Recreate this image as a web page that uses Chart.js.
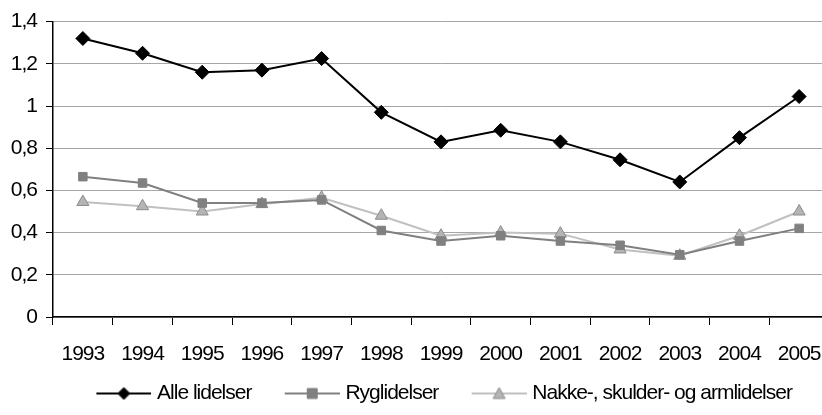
<!DOCTYPE html>
<html>
<head>
<meta charset="utf-8">
<script src="https://cdn.jsdelivr.net/npm/chart.js@4.4.0/dist/chart.umd.min.js"></script>
<style>
  html, body { margin: 0; padding: 0; background: #fff; overflow: hidden; }
  #wrap { width: 866px; height: 415px; }
</style>
</head>
<body>
<div id="wrap"><canvas id="chart" width="866" height="415"></canvas></div>
<script>
const years = ["1993", "1994", "1995", "1996", "1997", "1998", "1999", "2000", "2001", "2002", "2003", "2004", "2005"];
const alleLidelser = [1.32, 1.25, 1.16, 1.17, 1.225, 0.97, 0.83, 0.885, 0.83, 0.745, 0.64, 0.85, 1.045];
const ryglidelser = [0.665, 0.635, 0.54, 0.54, 0.555, 0.41, 0.36, 0.385, 0.36, 0.34, 0.295, 0.36, 0.42];
const nakkeLidelser = [0.545, 0.525, 0.5, 0.535, 0.565, 0.48, 0.385, 0.4, 0.395, 0.32, 0.29, 0.385, 0.5];
const seriesNames = ["Alle lidelser", "Ryglidelser", "Nakke-, skulder- og armlidelser"];
const yTicks = [0, 0.2, 0.4, 0.6, 0.8, 1, 1.2, 1.4];

const FONT = "'Liberation Sans', Arial, sans-serif";
const FONT_SIZE = 21;

// legend picture: line with the marker in the middle, sitting at the right of the image
function legendImage(lineColor, marker, fill, stroke) {
  const c = document.createElement("canvas");
  c.width = 88;
  c.height = 16;
  const ctx = c.getContext("2d");
  const cx = 60.5;
  ctx.strokeStyle = lineColor;
  ctx.lineWidth = 2;
  ctx.beginPath();
  ctx.moveTo(33, 8);
  ctx.lineTo(88, 8);
  ctx.stroke();
  ctx.fillStyle = fill;
  ctx.strokeStyle = stroke;
  ctx.lineWidth = 1;
  ctx.beginPath();
  if (marker === "diamond") {
    ctx.moveTo(cx, 2); ctx.lineTo(cx + 6, 8); ctx.lineTo(cx, 14); ctx.lineTo(cx - 6, 8);
  } else if (marker === "square") {
    ctx.rect(cx - 5, 3, 10, 10);
  } else {
    ctx.moveTo(cx, 2); ctx.lineTo(cx + 6, 13); ctx.lineTo(cx - 6, 13);
  }
  ctx.closePath();
  ctx.fill();
  ctx.stroke();
  return c;
}

const legendPics = [
  legendImage("#000000", "diamond", "#000000", "#000000"),
  legendImage("#808080", "square", "#808080", "#808080"),
  legendImage("#c0c0c0", "triangle", "#b4b4b4", "#8c8c8c")
];

// narrow the text a little, like the condensed font in the picture
const tightText = {
  id: "tightText",
  beforeUpdate: chart => { chart.ctx.letterSpacing = "-1px"; },
  beforeDraw: chart => { chart.ctx.letterSpacing = "-1px"; }
};

// legend sits a bit left of the plot centre in the picture
const legendShift = {
  id: "legendShift",
  afterLayout: chart => {
    chart.legend.left -= 11;
    chart.legend.right -= 11;
  }
};

new Chart(document.getElementById("chart"), {
  type: "line",
  plugins: [tightText, legendShift],
  data: {
    labels: years,
    datasets: [
      {
        label: seriesNames[0],
        data: alleLidelser,
        borderColor: "#000000",
        backgroundColor: "#000000",
        borderWidth: 2,
        pointStyle: "rectRot",
        pointRadius: 7,
        pointBorderWidth: 1,
        pointBackgroundColor: "#000000",
        pointBorderColor: "#000000"
      },
      {
        label: seriesNames[1],
        data: ryglidelser,
        borderColor: "#808080",
        backgroundColor: "#808080",
        borderWidth: 2,
        pointStyle: "rect",
        pointRadius: 6,
        pointBorderWidth: 1,
        pointBackgroundColor: "#808080",
        pointBorderColor: "#808080"
      },
      {
        label: seriesNames[2],
        data: nakkeLidelser,
        borderColor: "#c0c0c0",
        backgroundColor: "#b4b4b4",
        borderWidth: 2,
        pointStyle: "triangle",
        pointRadius: 7,
        pointBorderWidth: 1,
        pointBackgroundColor: "#b4b4b4",
        pointBorderColor: "#8c8c8c"
      }
    ]
  },
  options: {
    responsive: false,
    animation: false,
    events: [],
    layout: { padding: { left: 0, right: 37, top: 21, bottom: 1 } },
    plugins: {
      tooltip: { enabled: false },
      legend: {
        position: "bottom",
        fullSize: false,
        labels: {
          usePointStyle: true,
          pointStyleWidth: 78.5,
          padding: 5,
          color: "#000",
          font: { family: FONT, size: FONT_SIZE },
          generateLabels: chart => chart.data.datasets.map((ds, i) => ({
            text: ds.label,
            pointStyle: legendPics[i],
            fillStyle: ds.backgroundColor,
            strokeStyle: ds.borderColor,
            lineWidth: 0,
            hidden: false,
            datasetIndex: i
          }))
        }
      }
    },
    scales: {
      x: {
        offset: true,
        grid: {
          offset: true,
          drawOnChartArea: false,
          tickLength: 8,
          tickColor: "#000",
          tickWidth: 1
        },
        border: { color: "#000", width: 1.5 },
        ticks: {
          color: "#000",
          padding: 17,
          maxRotation: 0,
          autoSkip: false,
          font: { family: FONT, size: FONT_SIZE }
        },
        afterFit: scale => { scale.height = 61; }
      },
      y: {
        min: 0,
        max: 1.4,
        afterBuildTicks: scale => { scale.ticks = yTicks.map(v => ({ value: v })); },
        grid: {
          color: "#a6a6a6",
          lineWidth: 1,
          tickLength: 7,
          tickColor: "#000"
        },
        border: { color: "#000", width: 1.5 },
        ticks: {
          color: "#000",
          padding: 9,
          font: { family: FONT, size: FONT_SIZE },
          callback: v => String(Math.round(v * 10) / 10).replace(".", ",")
        },
        afterFit: scale => { scale.width = 53; }
      }
    }
  }
});
</script>
</body>
</html>
